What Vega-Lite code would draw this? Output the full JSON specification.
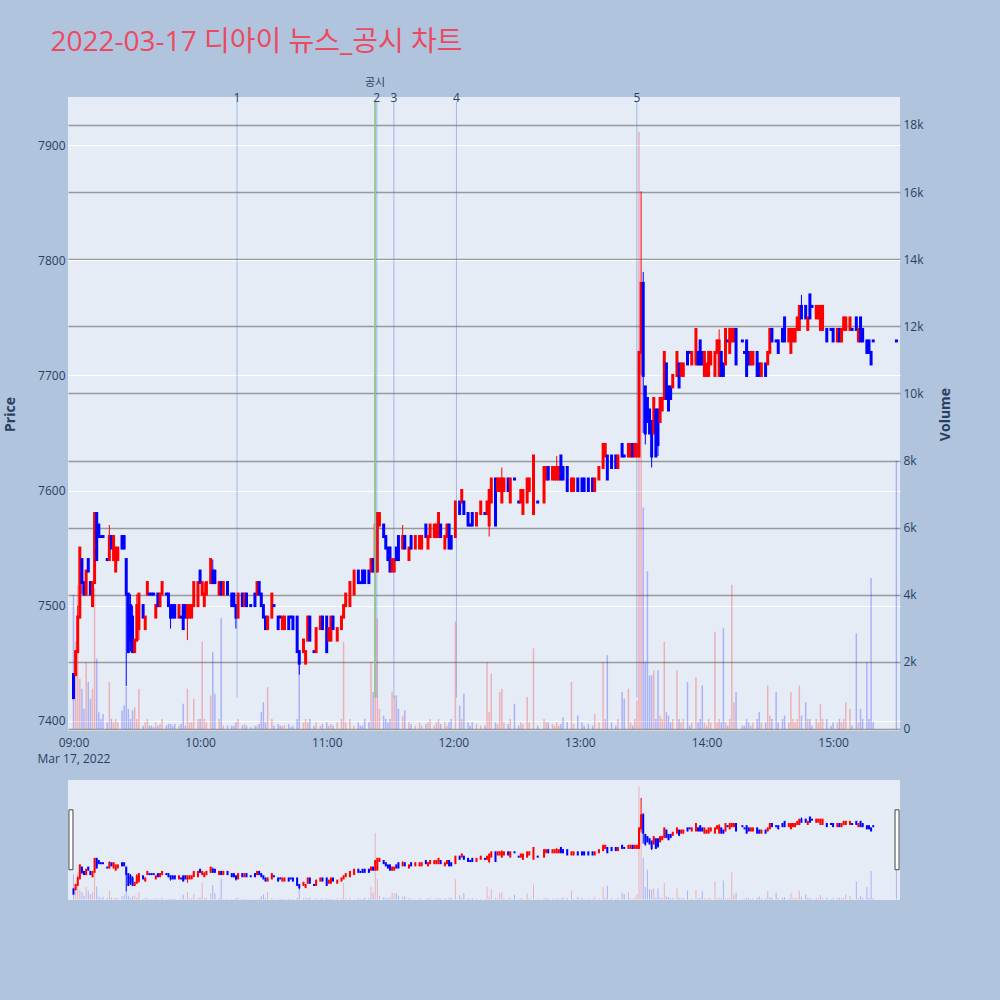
{
"$schema":"https://vega.github.io/schema/vega-lite/v6.json",
"background":"#b0c4de",
"padding":{"left":3,"top":29,"right":62,"bottom":113},
"title":{"text":"2022-03-17 디아이 뉴스_공시 차트","anchor":"start","frame":"bounds","dx":47,"offset":20,"fontSize":28,"font":"Open Sans, Noto Sans CJK KR","fontWeight":"normal","color":"#eb4a61"},
"config":{"view":{"fill":"#e5ecf6","stroke":null},"font":"Open Sans","axis":{"labelColor":"#2a3f5f","titleColor":"#2a3f5f","labelFontSize":12,"domain":false,"ticks":false,"labelFont":"Open Sans","titleFont":"Open Sans"}},
"data":{"format":{"parse":{"t":"date:'%H:%M'"}},"values":[
{"t":"09:00","o":7440,"h":7440,"l":7420,"c":7420,"v":4000},
{"t":"09:01","o":7440,"h":7460,"l":7440,"c":7460,"v":2600},
{"t":"09:02","o":7460,"h":7500,"l":7460,"c":7490,"v":4300},
{"t":"09:03","o":7490,"h":7550,"l":7490,"c":7550,"v":1500},
{"t":"09:04","o":7540,"h":7540,"l":7510,"c":7520,"v":1200},
{"t":"09:05","o":7520,"h":7520,"l":7510,"c":7510,"v":600},
{"t":"09:06","o":7510,"h":7530,"l":7510,"c":7530,"v":2000},
{"t":"09:07","o":7540,"h":7540,"l":7530,"c":7530,"v":1400},
{"t":"09:08","o":7520,"h":7520,"l":7510,"c":7510,"v":900},
{"t":"09:09","o":7500,"h":7520,"l":7500,"c":7520,"v":1200},
{"t":"09:10","o":7520,"h":7580,"l":7520,"c":7580,"v":4200},
{"t":"09:11","o":7580,"h":7580,"l":7540,"c":7540,"v":2100},
{"t":"09:12","o":7570,"h":7570,"l":7560,"c":7560,"v":500},
{"t":"09:13","o":7560,"h":7560,"l":7560,"c":7560,"v":300},
{"t":"09:14","o":7560,"h":7560,"l":7560,"c":7560,"v":450},
{"t":"09:16","o":7540,"h":7540,"l":7540,"c":7540,"v":200},
{"t":"09:17","o":7540,"h":7570,"l":7540,"c":7560,"v":1400},
{"t":"09:18","o":7560,"h":7560,"l":7550,"c":7550,"v":300},
{"t":"09:19","o":7540,"h":7560,"l":7540,"c":7560,"v":200},
{"t":"09:20","o":7530,"h":7550,"l":7530,"c":7550,"v":300},
{"t":"09:21","o":7540,"h":7550,"l":7540,"c":7550,"v":200},
{"t":"09:23","o":7560,"h":7560,"l":7550,"c":7550,"v":550},
{"t":"09:24","o":7560,"h":7560,"l":7550,"c":7550,"v":700},
{"t":"09:25","o":7540,"h":7540,"l":7430,"c":7510,"v":1250},
{"t":"09:26","o":7510,"h":7510,"l":7460,"c":7460,"v":600},
{"t":"09:27","o":7500,"h":7510,"l":7460,"c":7470,"v":300},
{"t":"09:28","o":7490,"h":7500,"l":7460,"c":7460,"v":550},
{"t":"09:29","o":7460,"h":7470,"l":7460,"c":7470,"v":650},
{"t":"09:30","o":7470,"h":7510,"l":7470,"c":7500,"v":300},
{"t":"09:31","o":7480,"h":7510,"l":7470,"c":7510,"v":1200},
{"t":"09:33","o":7500,"h":7500,"l":7490,"c":7490,"v":100},
{"t":"09:34","o":7480,"h":7490,"l":7480,"c":7490,"v":200},
{"t":"09:35","o":7510,"h":7520,"l":7510,"c":7520,"v":300},
{"t":"09:36","o":7510,"h":7510,"l":7510,"c":7510,"v":100},
{"t":"09:37","o":7510,"h":7510,"l":7510,"c":7510,"v":100},
{"t":"09:38","o":7510,"h":7510,"l":7510,"c":7510,"v":50},
{"t":"09:39","o":7490,"h":7500,"l":7490,"c":7500,"v":200},
{"t":"09:40","o":7510,"h":7510,"l":7500,"c":7500,"v":100},
{"t":"09:41","o":7500,"h":7510,"l":7500,"c":7510,"v":150},
{"t":"09:42","o":7510,"h":7520,"l":7510,"c":7520,"v":300},
{"t":"09:44","o":7510,"h":7510,"l":7510,"c":7510,"v":100},
{"t":"09:45","o":7510,"h":7510,"l":7500,"c":7500,"v":150},
{"t":"09:46","o":7500,"h":7500,"l":7480,"c":7490,"v":150},
{"t":"09:47","o":7500,"h":7500,"l":7490,"c":7490,"v":100},
{"t":"09:48","o":7500,"h":7500,"l":7490,"c":7490,"v":150},
{"t":"09:50","o":7490,"h":7500,"l":7490,"c":7500,"v":100},
{"t":"09:51","o":7490,"h":7490,"l":7490,"c":7490,"v":150},
{"t":"09:52","o":7500,"h":7500,"l":7480,"c":7480,"v":750},
{"t":"09:53","o":7500,"h":7500,"l":7490,"c":7490,"v":100},
{"t":"09:54","o":7490,"h":7500,"l":7470,"c":7500,"v":1200},
{"t":"09:55","o":7490,"h":7500,"l":7490,"c":7500,"v":200},
{"t":"09:56","o":7490,"h":7500,"l":7490,"c":7500,"v":200},
{"t":"09:57","o":7500,"h":7520,"l":7500,"c":7520,"v":900},
{"t":"09:59","o":7500,"h":7520,"l":7500,"c":7520,"v":300},
{"t":"10:00","o":7530,"h":7530,"l":7520,"c":7520,"v":300},
{"t":"10:01","o":7510,"h":7520,"l":7510,"c":7520,"v":2600},
{"t":"10:02","o":7500,"h":7520,"l":7500,"c":7510,"v":300},
{"t":"10:03","o":7510,"h":7520,"l":7510,"c":7520,"v":200},
{"t":"10:05","o":7520,"h":7540,"l":7520,"c":7540,"v":1000},
{"t":"10:06","o":7530,"h":7540,"l":7520,"c":7520,"v":2300},
{"t":"10:07","o":7530,"h":7530,"l":7520,"c":7520,"v":1050},
{"t":"10:09","o":7510,"h":7520,"l":7510,"c":7520,"v":300},
{"t":"10:10","o":7520,"h":7520,"l":7510,"c":7510,"v":3300},
{"t":"10:11","o":7510,"h":7520,"l":7510,"c":7520,"v":100},
{"t":"10:13","o":7520,"h":7520,"l":7510,"c":7510,"v":100},
{"t":"10:15","o":7510,"h":7510,"l":7500,"c":7500,"v":100},
{"t":"10:16","o":7510,"h":7510,"l":7500,"c":7500,"v":100},
{"t":"10:17","o":7500,"h":7500,"l":7480,"c":7490,"v":200},
{"t":"10:18","o":7490,"h":7510,"l":7490,"c":7510,"v":300},
{"t":"10:20","o":7510,"h":7510,"l":7500,"c":7500,"v":100},
{"t":"10:21","o":7500,"h":7510,"l":7500,"c":7510,"v":150},
{"t":"10:22","o":7510,"h":7510,"l":7500,"c":7500,"v":100},
{"t":"10:24","o":7500,"h":7500,"l":7500,"c":7500,"v":50},
{"t":"10:26","o":7510,"h":7510,"l":7500,"c":7500,"v":100},
{"t":"10:27","o":7510,"h":7520,"l":7510,"c":7520,"v":100},
{"t":"10:28","o":7520,"h":7520,"l":7510,"c":7510,"v":150},
{"t":"10:29","o":7510,"h":7510,"l":7500,"c":7500,"v":500},
{"t":"10:30","o":7500,"h":7500,"l":7490,"c":7490,"v":800},
{"t":"10:31","o":7490,"h":7490,"l":7480,"c":7480,"v":200},
{"t":"10:32","o":7480,"h":7490,"l":7480,"c":7490,"v":1250},
{"t":"10:34","o":7490,"h":7510,"l":7490,"c":7510,"v":300},
{"t":"10:35","o":7500,"h":7500,"l":7500,"c":7500,"v":100},
{"t":"10:37","o":7490,"h":7490,"l":7480,"c":7480,"v":150},
{"t":"10:38","o":7490,"h":7490,"l":7490,"c":7490,"v":100},
{"t":"10:39","o":7480,"h":7490,"l":7480,"c":7490,"v":100},
{"t":"10:40","o":7480,"h":7490,"l":7480,"c":7490,"v":100},
{"t":"10:42","o":7490,"h":7490,"l":7480,"c":7480,"v":150},
{"t":"10:43","o":7490,"h":7490,"l":7490,"c":7490,"v":50},
{"t":"10:44","o":7490,"h":7490,"l":7480,"c":7480,"v":100},
{"t":"10:46","o":7490,"h":7490,"l":7460,"c":7460,"v":300},
{"t":"10:47","o":7460,"h":7460,"l":7440,"c":7450,"v":2000},
{"t":"10:49","o":7460,"h":7470,"l":7460,"c":7470,"v":200},
{"t":"10:50","o":7450,"h":7460,"l":7450,"c":7460,"v":300},
{"t":"10:51","o":7470,"h":7490,"l":7470,"c":7490,"v":200},
{"t":"10:52","o":7490,"h":7490,"l":7470,"c":7470,"v":300},
{"t":"10:54","o":7460,"h":7460,"l":7460,"c":7460,"v":100},
{"t":"10:55","o":7460,"h":7480,"l":7460,"c":7480,"v":200},
{"t":"10:57","o":7480,"h":7490,"l":7480,"c":7490,"v":100},
{"t":"10:58","o":7490,"h":7490,"l":7480,"c":7480,"v":150},
{"t":"11:00","o":7490,"h":7490,"l":7460,"c":7460,"v":200},
{"t":"11:01","o":7470,"h":7480,"l":7470,"c":7480,"v":100},
{"t":"11:02","o":7470,"h":7490,"l":7470,"c":7490,"v":150},
{"t":"11:03","o":7490,"h":7490,"l":7480,"c":7480,"v":100},
{"t":"11:05","o":7470,"h":7480,"l":7470,"c":7480,"v":200},
{"t":"11:07","o":7480,"h":7490,"l":7480,"c":7490,"v":300},
{"t":"11:08","o":7490,"h":7500,"l":7490,"c":7500,"v":2600},
{"t":"11:09","o":7500,"h":7510,"l":7500,"c":7510,"v":200},
{"t":"11:11","o":7500,"h":7520,"l":7500,"c":7520,"v":300},
{"t":"11:13","o":7510,"h":7530,"l":7510,"c":7530,"v":100},
{"t":"11:15","o":7530,"h":7530,"l":7520,"c":7520,"v":200},
{"t":"11:16","o":7520,"h":7520,"l":7520,"c":7520,"v":100},
{"t":"11:17","o":7530,"h":7530,"l":7520,"c":7520,"v":100},
{"t":"11:18","o":7530,"h":7530,"l":7520,"c":7520,"v":300},
{"t":"11:20","o":7530,"h":7530,"l":7520,"c":7520,"v":200},
{"t":"11:21","o":7530,"h":7540,"l":7530,"c":7540,"v":2000},
{"t":"11:22","o":7540,"h":7540,"l":7530,"c":7530,"v":1100},
{"t":"11:23","o":7530,"h":7570,"l":7530,"c":7570,"v":10500},
{"t":"11:24","o":7530,"h":7580,"l":7530,"c":7580,"v":3300},
{"t":"11:25","o":7570,"h":7580,"l":7570,"c":7580,"v":600},
{"t":"11:27","o":7570,"h":7570,"l":7560,"c":7560,"v":400},
{"t":"11:28","o":7560,"h":7560,"l":7550,"c":7550,"v":300},
{"t":"11:29","o":7550,"h":7550,"l":7540,"c":7540,"v":200},
{"t":"11:30","o":7550,"h":7550,"l":7530,"c":7530,"v":300},
{"t":"11:31","o":7530,"h":7540,"l":7530,"c":7540,"v":1100},
{"t":"11:32","o":7530,"h":7540,"l":7530,"c":7540,"v":1000},
{"t":"11:33","o":7550,"h":7550,"l":7540,"c":7540,"v":1000},
{"t":"11:34","o":7560,"h":7560,"l":7540,"c":7540,"v":600},
{"t":"11:36","o":7550,"h":7570,"l":7550,"c":7560,"v":400},
{"t":"11:37","o":7560,"h":7560,"l":7550,"c":7550,"v":550},
{"t":"11:39","o":7540,"h":7550,"l":7540,"c":7550,"v":200},
{"t":"11:40","o":7560,"h":7560,"l":7550,"c":7550,"v":150},
{"t":"11:42","o":7550,"h":7560,"l":7550,"c":7560,"v":100},
{"t":"11:44","o":7550,"h":7560,"l":7550,"c":7560,"v":200},
{"t":"11:45","o":7550,"h":7560,"l":7550,"c":7560,"v":100},
{"t":"11:47","o":7570,"h":7570,"l":7560,"c":7560,"v":150},
{"t":"11:48","o":7550,"h":7560,"l":7550,"c":7560,"v":200},
{"t":"11:49","o":7560,"h":7570,"l":7560,"c":7570,"v":300},
{"t":"11:51","o":7560,"h":7570,"l":7560,"c":7570,"v":100},
{"t":"11:52","o":7560,"h":7570,"l":7560,"c":7570,"v":200},
{"t":"11:53","o":7560,"h":7580,"l":7560,"c":7580,"v":300},
{"t":"11:54","o":7570,"h":7570,"l":7560,"c":7560,"v":150},
{"t":"11:56","o":7550,"h":7560,"l":7550,"c":7560,"v":200},
{"t":"11:57","o":7560,"h":7570,"l":7560,"c":7570,"v":100},
{"t":"11:58","o":7570,"h":7570,"l":7550,"c":7550,"v":200},
{"t":"11:59","o":7560,"h":7560,"l":7550,"c":7550,"v":300},
{"t":"12:01","o":7560,"h":7590,"l":7560,"c":7590,"v":3200},
{"t":"12:03","o":7590,"h":7590,"l":7580,"c":7580,"v":700},
{"t":"12:04","o":7590,"h":7600,"l":7590,"c":7600,"v":300},
{"t":"12:05","o":7590,"h":7590,"l":7580,"c":7580,"v":1050},
{"t":"12:07","o":7580,"h":7580,"l":7570,"c":7570,"v":200},
{"t":"12:08","o":7570,"h":7570,"l":7570,"c":7570,"v":100},
{"t":"12:09","o":7580,"h":7580,"l":7570,"c":7570,"v":200},
{"t":"12:11","o":7570,"h":7580,"l":7570,"c":7580,"v":150},
{"t":"12:13","o":7580,"h":7590,"l":7580,"c":7590,"v":100},
{"t":"12:15","o":7580,"h":7580,"l":7580,"c":7580,"v":100},
{"t":"12:16","o":7580,"h":7590,"l":7580,"c":7590,"v":2000},
{"t":"12:17","o":7570,"h":7600,"l":7560,"c":7600,"v":500},
{"t":"12:18","o":7590,"h":7610,"l":7590,"c":7610,"v":1650},
{"t":"12:20","o":7610,"h":7610,"l":7570,"c":7570,"v":200},
{"t":"12:21","o":7600,"h":7610,"l":7600,"c":7610,"v":150},
{"t":"12:22","o":7600,"h":7610,"l":7600,"c":7610,"v":1100},
{"t":"12:23","o":7590,"h":7620,"l":7590,"c":7610,"v":1200},
{"t":"12:24","o":7600,"h":7610,"l":7600,"c":7610,"v":200},
{"t":"12:26","o":7610,"h":7610,"l":7600,"c":7600,"v":150},
{"t":"12:27","o":7590,"h":7610,"l":7590,"c":7610,"v":300},
{"t":"12:29","o":7610,"h":7610,"l":7610,"c":7610,"v":750},
{"t":"12:31","o":7590,"h":7590,"l":7590,"c":7590,"v":100},
{"t":"12:32","o":7590,"h":7600,"l":7590,"c":7600,"v":200},
{"t":"12:33","o":7580,"h":7600,"l":7580,"c":7600,"v":150},
{"t":"12:35","o":7590,"h":7610,"l":7590,"c":7610,"v":950},
{"t":"12:36","o":7600,"h":7610,"l":7600,"c":7610,"v":200},
{"t":"12:38","o":7580,"h":7630,"l":7580,"c":7630,"v":2400},
{"t":"12:40","o":7590,"h":7590,"l":7590,"c":7590,"v":100},
{"t":"12:43","o":7590,"h":7620,"l":7590,"c":7620,"v":300},
{"t":"12:44","o":7610,"h":7620,"l":7610,"c":7620,"v":200},
{"t":"12:45","o":7620,"h":7620,"l":7610,"c":7610,"v":200},
{"t":"12:47","o":7610,"h":7620,"l":7610,"c":7620,"v":150},
{"t":"12:48","o":7610,"h":7620,"l":7610,"c":7620,"v":100},
{"t":"12:49","o":7610,"h":7630,"l":7610,"c":7620,"v":200},
{"t":"12:50","o":7610,"h":7620,"l":7610,"c":7620,"v":100},
{"t":"12:51","o":7630,"h":7630,"l":7610,"c":7610,"v":150},
{"t":"12:52","o":7620,"h":7620,"l":7610,"c":7610,"v":350},
{"t":"12:54","o":7620,"h":7620,"l":7600,"c":7600,"v":200},
{"t":"12:56","o":7600,"h":7610,"l":7600,"c":7610,"v":1400},
{"t":"12:57","o":7600,"h":7610,"l":7600,"c":7610,"v":150},
{"t":"12:59","o":7610,"h":7610,"l":7600,"c":7600,"v":400},
{"t":"13:01","o":7610,"h":7610,"l":7600,"c":7600,"v":200},
{"t":"13:02","o":7610,"h":7610,"l":7600,"c":7600,"v":100},
{"t":"13:04","o":7610,"h":7610,"l":7600,"c":7600,"v":150},
{"t":"13:06","o":7610,"h":7610,"l":7600,"c":7600,"v":100},
{"t":"13:07","o":7600,"h":7610,"l":7600,"c":7610,"v":450},
{"t":"13:09","o":7610,"h":7620,"l":7610,"c":7620,"v":200},
{"t":"13:11","o":7620,"h":7640,"l":7620,"c":7640,"v":2000},
{"t":"13:12","o":7630,"h":7640,"l":7630,"c":7640,"v":300},
{"t":"13:13","o":7630,"h":7630,"l":7610,"c":7610,"v":2200},
{"t":"13:15","o":7630,"h":7630,"l":7620,"c":7620,"v":200},
{"t":"13:17","o":7630,"h":7630,"l":7620,"c":7620,"v":100},
{"t":"13:18","o":7620,"h":7630,"l":7620,"c":7630,"v":300},
{"t":"13:20","o":7640,"h":7640,"l":7630,"c":7630,"v":1100},
{"t":"13:21","o":7630,"h":7630,"l":7630,"c":7630,"v":900},
{"t":"13:23","o":7630,"h":7640,"l":7630,"c":7640,"v":1200},
{"t":"13:24","o":7630,"h":7640,"l":7630,"c":7640,"v":200},
{"t":"13:25","o":7640,"h":7640,"l":7630,"c":7630,"v":100},
{"t":"13:26","o":7630,"h":7640,"l":7630,"c":7640,"v":300},
{"t":"13:27","o":7630,"h":7640,"l":7630,"c":7640,"v":850},
{"t":"13:28","o":7630,"h":7720,"l":7630,"c":7720,"v":17800},
{"t":"13:29","o":7720,"h":7860,"l":7700,"c":7780,"v":10500},
{"t":"13:30","o":7780,"h":7790,"l":7650,"c":7700,"v":6600},
{"t":"13:31","o":7690,"h":7690,"l":7640,"c":7650,"v":2000},
{"t":"13:32","o":7680,"h":7680,"l":7660,"c":7660,"v":4700},
{"t":"13:33","o":7670,"h":7670,"l":7650,"c":7650,"v":1600},
{"t":"13:34","o":7660,"h":7660,"l":7620,"c":7630,"v":1600},
{"t":"13:35","o":7650,"h":7680,"l":7650,"c":7680,"v":1750},
{"t":"13:36","o":7670,"h":7670,"l":7630,"c":7630,"v":300},
{"t":"13:37","o":7670,"h":7670,"l":7630,"c":7640,"v":1750},
{"t":"13:38","o":7660,"h":7680,"l":7660,"c":7680,"v":400},
{"t":"13:39","o":7670,"h":7680,"l":7670,"c":7680,"v":300},
{"t":"13:40","o":7680,"h":7720,"l":7680,"c":7720,"v":2600},
{"t":"13:41","o":7710,"h":7710,"l":7680,"c":7680,"v":500},
{"t":"13:42","o":7690,"h":7690,"l":7670,"c":7670,"v":400},
{"t":"13:43","o":7690,"h":7690,"l":7680,"c":7680,"v":200},
{"t":"13:44","o":7690,"h":7700,"l":7690,"c":7700,"v":300},
{"t":"13:46","o":7700,"h":7720,"l":7700,"c":7720,"v":1750},
{"t":"13:47","o":7710,"h":7710,"l":7690,"c":7690,"v":300},
{"t":"13:48","o":7700,"h":7710,"l":7700,"c":7710,"v":200},
{"t":"13:49","o":7700,"h":7710,"l":7700,"c":7710,"v":300},
{"t":"13:51","o":7720,"h":7720,"l":7710,"c":7710,"v":1400},
{"t":"13:52","o":7720,"h":7720,"l":7720,"c":7720,"v":100},
{"t":"13:53","o":7710,"h":7720,"l":7710,"c":7720,"v":200},
{"t":"13:55","o":7710,"h":7740,"l":7710,"c":7740,"v":1550},
{"t":"13:56","o":7720,"h":7720,"l":7710,"c":7710,"v":200},
{"t":"13:57","o":7730,"h":7730,"l":7710,"c":7710,"v":300},
{"t":"13:58","o":7720,"h":7720,"l":7710,"c":7710,"v":1300},
{"t":"13:59","o":7700,"h":7720,"l":7700,"c":7720,"v":200},
{"t":"14:00","o":7700,"h":7710,"l":7700,"c":7710,"v":100},
{"t":"14:01","o":7700,"h":7720,"l":7700,"c":7720,"v":300},
{"t":"14:02","o":7710,"h":7720,"l":7710,"c":7720,"v":200},
{"t":"14:04","o":7700,"h":7720,"l":7700,"c":7720,"v":2900},
{"t":"14:05","o":7720,"h":7730,"l":7720,"c":7730,"v":200},
{"t":"14:06","o":7700,"h":7740,"l":7700,"c":7730,"v":300},
{"t":"14:07","o":7720,"h":7720,"l":7700,"c":7700,"v":200},
{"t":"14:08","o":7710,"h":7710,"l":7700,"c":7700,"v":3000},
{"t":"14:09","o":7710,"h":7740,"l":7710,"c":7740,"v":200},
{"t":"14:10","o":7730,"h":7730,"l":7730,"c":7730,"v":100},
{"t":"14:11","o":7720,"h":7740,"l":7720,"c":7740,"v":300},
{"t":"14:12","o":7730,"h":7740,"l":7730,"c":7740,"v":4300},
{"t":"14:13","o":7730,"h":7740,"l":7730,"c":7740,"v":800},
{"t":"14:14","o":7740,"h":7740,"l":7710,"c":7710,"v":1100},
{"t":"14:17","o":7730,"h":7730,"l":7730,"c":7730,"v":100},
{"t":"14:18","o":7720,"h":7720,"l":7720,"c":7720,"v":100},
{"t":"14:19","o":7730,"h":7730,"l":7700,"c":7700,"v":300},
{"t":"14:20","o":7720,"h":7720,"l":7710,"c":7710,"v":200},
{"t":"14:21","o":7710,"h":7720,"l":7710,"c":7720,"v":100},
{"t":"14:22","o":7710,"h":7720,"l":7710,"c":7720,"v":200},
{"t":"14:24","o":7720,"h":7720,"l":7700,"c":7700,"v":300},
{"t":"14:25","o":7710,"h":7710,"l":7700,"c":7700,"v":500},
{"t":"14:26","o":7700,"h":7710,"l":7700,"c":7710,"v":200},
{"t":"14:28","o":7710,"h":7710,"l":7700,"c":7700,"v":200},
{"t":"14:29","o":7710,"h":7720,"l":7710,"c":7720,"v":1300},
{"t":"14:30","o":7720,"h":7740,"l":7720,"c":7740,"v":400},
{"t":"14:31","o":7740,"h":7740,"l":7730,"c":7730,"v":300},
{"t":"14:33","o":7730,"h":7730,"l":7730,"c":7730,"v":1100},
{"t":"14:34","o":7730,"h":7730,"l":7720,"c":7720,"v":200},
{"t":"14:36","o":7740,"h":7740,"l":7730,"c":7730,"v":300},
{"t":"14:37","o":7750,"h":7750,"l":7730,"c":7730,"v":400},
{"t":"14:39","o":7730,"h":7740,"l":7730,"c":7740,"v":200},
{"t":"14:40","o":7720,"h":7740,"l":7720,"c":7740,"v":1100},
{"t":"14:41","o":7730,"h":7740,"l":7730,"c":7740,"v":300},
{"t":"14:42","o":7730,"h":7740,"l":7730,"c":7740,"v":200},
{"t":"14:43","o":7740,"h":7750,"l":7740,"c":7750,"v":300},
{"t":"14:44","o":7740,"h":7760,"l":7740,"c":7760,"v":1300},
{"t":"14:45","o":7760,"h":7770,"l":7750,"c":7750,"v":400},
{"t":"14:47","o":7760,"h":7760,"l":7750,"c":7750,"v":800},
{"t":"14:48","o":7740,"h":7750,"l":7740,"c":7750,"v":300},
{"t":"14:49","o":7770,"h":7770,"l":7750,"c":7750,"v":300},
{"t":"14:50","o":7760,"h":7760,"l":7760,"c":7760,"v":100},
{"t":"14:52","o":7750,"h":7760,"l":7750,"c":7760,"v":300},
{"t":"14:53","o":7750,"h":7760,"l":7750,"c":7760,"v":200},
{"t":"14:54","o":7740,"h":7760,"l":7740,"c":7760,"v":750},
{"t":"14:55","o":7740,"h":7760,"l":7740,"c":7760,"v":300},
{"t":"14:57","o":7740,"h":7740,"l":7730,"c":7730,"v":300},
{"t":"14:59","o":7740,"h":7740,"l":7740,"c":7740,"v":100},
{"t":"15:00","o":7740,"h":7740,"l":7730,"c":7730,"v":200},
{"t":"15:02","o":7730,"h":7740,"l":7730,"c":7740,"v":200},
{"t":"15:03","o":7740,"h":7740,"l":7730,"c":7730,"v":300},
{"t":"15:04","o":7730,"h":7740,"l":7730,"c":7740,"v":200},
{"t":"15:05","o":7740,"h":7750,"l":7740,"c":7750,"v":300},
{"t":"15:06","o":7740,"h":7750,"l":7740,"c":7750,"v":800},
{"t":"15:08","o":7740,"h":7750,"l":7740,"c":7750,"v":600},
{"t":"15:09","o":7740,"h":7740,"l":7740,"c":7740,"v":100},
{"t":"15:11","o":7750,"h":7750,"l":7740,"c":7740,"v":2850},
{"t":"15:12","o":7730,"h":7740,"l":7730,"c":7740,"v":200},
{"t":"15:13","o":7750,"h":7750,"l":7730,"c":7730,"v":600},
{"t":"15:14","o":7740,"h":7740,"l":7730,"c":7730,"v":300},
{"t":"15:16","o":7730,"h":7730,"l":7720,"c":7720,"v":2000},
{"t":"15:17","o":7730,"h":7730,"l":7720,"c":7720,"v":300},
{"t":"15:18","o":7720,"h":7720,"l":7710,"c":7710,"v":4500},
{"t":"15:19","o":7730,"h":7730,"l":7730,"c":7730,"v":200},
{"t":"15:30","o":7730,"h":7730,"l":7730,"c":7730,"v":8000}
]},
"spacing":15,
"vconcat":[
{"width":832,"height":634,
"encoding":{"x":{"field":"t","type":"temporal","title":null,
 "scale":{"padding":0,"domain":[{"year":1900,"month":1,"date":1,"hours":8,"minutes":57,"seconds":24},{"year":1900,"month":1,"date":1,"hours":15,"minutes":31,"seconds":42}]},
 "axis":{"grid":false,"labelPadding":6,"labelLineHeight":16,
  "values":[{"year":1900,"month":1,"date":1,"hours":9},{"year":1900,"month":1,"date":1,"hours":10},{"year":1900,"month":1,"date":1,"hours":11},{"year":1900,"month":1,"date":1,"hours":12},{"year":1900,"month":1,"date":1,"hours":13},{"year":1900,"month":1,"date":1,"hours":14},{"year":1900,"month":1,"date":1,"hours":15}],
  "labelExpr":"hours(datum.value) == 9 ? ['09:00', 'Mar 17, 2022'] : timeFormat(datum.value, '%H:%M')"}}},
"layer":[
 {"mark":{"type":"bar","width":1.5,"opacity":0.25},
  "encoding":{"y":{"field":"v","type":"quantitative","stack":null,"scale":{"domain":[-60,18834],"nice":false,"zero":false},
    "axis":{"orient":"right","title":"Volume","titleAngle":270,"titleFontSize":14,"titleFontWeight":"bold","titlePadding":29,"labelPadding":3,"values":[0,2000,4000,6000,8000,10000,12000,14000,16000,18000],"format":"~s","labelExpr":"datum.value == 0 ? '0' : datum.label","grid":true,"gridColor":"#999999","gridWidth":1.5}},
   "y2":{"datum":0},
   "color":{"condition":{"test":"datum.c > datum.o","value":"#ff0000"},"value":"#0000ff"}}},
 {"layer":[
  {"mark":{"type":"rule","strokeWidth":1},
   "encoding":{"y":{"field":"l","type":"quantitative","scale":{"domain":[7391,7942],"nice":false,"zero":false},
     "axis":{"orient":"left","title":"Price","titleFontSize":14,"titleFontWeight":"bold","titlePadding":20,"labelPadding":3,"values":[7400,7500,7600,7700,7800,7900],"format":"d","grid":true,"gridColor":"#ffffff","gridWidth":1}},
    "y2":{"field":"h"},
    "color":{"condition":{"test":"datum.c > datum.o","value":"#ff0000"},"value":"#0000ff"}}},
  {"mark":{"type":"rule","strokeWidth":3,"strokeCap":"square"},
   "encoding":{"y":{"field":"o","type":"quantitative","title":"Price"},"y2":{"field":"c"},
    "color":{"condition":{"test":"datum.c > datum.o","value":"#ff0000"},"value":"#0000ff"}}},
  {"data":{"values":[{"t":"1900-01-01T10:17:30","n":"1"},{"t":"1900-01-01T11:23:45","n":"2"},{"t":"1900-01-01T11:31:50","n":"3"},{"t":"1900-01-01T12:01:30","n":"4"},{"t":"1900-01-01T13:27:00","n":"5"}]},
   "mark":{"type":"rule","color":"#4169e1","opacity":0.4,"strokeWidth":1},
   "encoding":{"y":{"datum":7420,"type":"quantitative"},"y2":{"datum":7938}}},
  {"data":{"values":[{"t":"1900-01-01T11:22:55","n":"공시"}]},
   "mark":{"type":"rule","color":"#8cc88c","opacity":0.9,"strokeWidth":2},
   "encoding":{"y":{"datum":7420,"type":"quantitative"},"y2":{"datum":7938}}},
  {"data":{"values":[{"t":"1900-01-01T10:17:30","n":"1"},{"t":"1900-01-01T11:23:45","n":"2"},{"t":"1900-01-01T11:31:50","n":"3"},{"t":"1900-01-01T12:01:30","n":"4"},{"t":"1900-01-01T13:27:00","n":"5"}]},
   "mark":{"type":"text","baseline":"middle","fontSize":12,"color":"#2a3f5f","font":"Open Sans"},
   "encoding":{"y":{"datum":7941.5,"type":"quantitative"},"text":{"field":"n"}}},
  {"data":{"values":[{"t":"1900-01-01T11:22:55","n":"공시"}]},
   "mark":{"type":"text","baseline":"middle","fontSize":11,"color":"#2a3f5f","font":"Noto Sans CJK KR"},
   "encoding":{"y":{"datum":7954,"type":"quantitative"},"text":{"field":"n"}}}
 ]}
],
"resolve":{"scale":{"y":"independent"},"axis":{"y":"independent"}}
},
{"width":832,"height":120,
"encoding":{"x":{"field":"t","type":"temporal","title":null,"axis":null,
 "scale":{"padding":0,"domain":[{"year":1900,"month":1,"date":1,"hours":8,"minutes":57,"seconds":24},{"year":1900,"month":1,"date":1,"hours":15,"minutes":31,"seconds":42}]}}},
"layer":[
 {"mark":{"type":"bar","width":1,"opacity":0.25},
  "encoding":{"y":{"field":"v","type":"quantitative","stack":null,"scale":{"domain":[-60,18834],"nice":false,"zero":false},
    "axis":{"orient":"right","title":"Volume","titleAngle":270,"titleFontSize":14,"titleFontWeight":"bold","titlePadding":29,"labelPadding":3,"values":[18000],"format":"~s","grid":false,"labelColor":"transparent","titleColor":"transparent"}},
   "y2":{"datum":0},
   "color":{"condition":{"test":"datum.c > datum.o","value":"#ff0000"},"value":"#0000ff"}}},
 {"layer":[
  {"mark":{"type":"rule","strokeWidth":1},
   "encoding":{"y":{"field":"l","type":"quantitative","scale":{"domain":[7391,7942],"nice":false,"zero":false},
     "axis":{"orient":"left","title":"Price","titleFontSize":14,"titleFontWeight":"bold","titlePadding":20,"labelPadding":3,"values":[7900],"format":"d","grid":false,"labelColor":"transparent","titleColor":"transparent"}},
    "y2":{"field":"h"},
    "color":{"condition":{"test":"datum.c > datum.o","value":"#ff0000"},"value":"#0000ff"}}},
  {"mark":{"type":"rule","strokeWidth":2,"strokeCap":"square"},
   "encoding":{"y":{"field":"o","type":"quantitative","title":"Price"},"y2":{"field":"c"},
    "color":{"condition":{"test":"datum.c > datum.o","value":"#ff0000"},"value":"#0000ff"}}},
  {"data":{"values":[{"t":"1900-01-01T08:58:48"},{"t":"1900-01-01T15:30:18"}]},
   "mark":{"type":"bar","width":4,"fill":"#ffffff","stroke":"#444444","strokeWidth":1},
   "encoding":{"y":{"datum":7530,"type":"quantitative"},"y2":{"datum":7805}}}
 ]}
],
"resolve":{"scale":{"y":"independent"},"axis":{"y":"independent"}}
}
]
}
